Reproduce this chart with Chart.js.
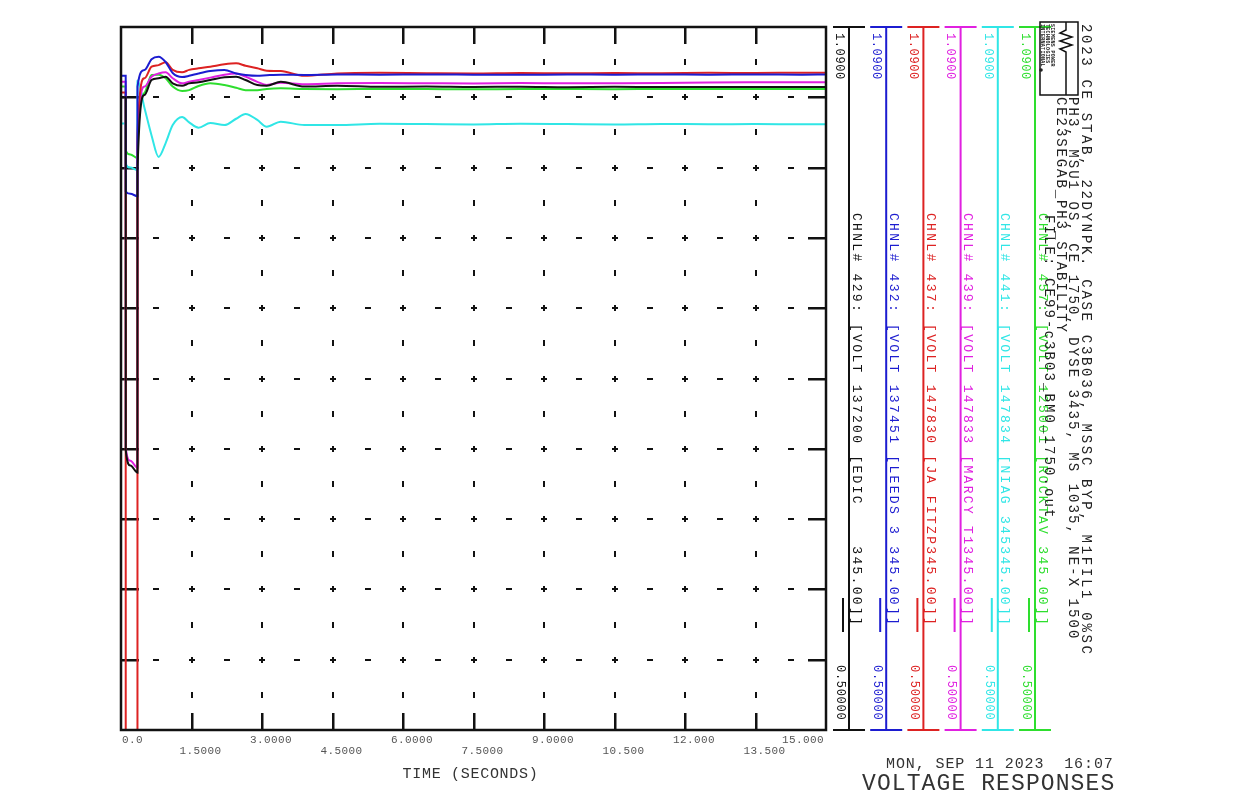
<!DOCTYPE html>
<html>
<head>
<meta charset="utf-8">
<title>VOLTAGE RESPONSES</title>
<script src="https://cdn.jsdelivr.net/npm/chart.js@4.4.0/dist/chart.umd.min.js"></script>
<style>
  html, body { margin: 0; padding: 0; background: #fff; }
  #wrap { width: 1236px; height: 798px; }
</style>
</head>
<body>
<div id="wrap"><canvas id="plot" width="1236" height="798"></canvas></div>
<script>
// time axis (seconds) shared by every channel
const time = [0, 0.1, 0.101, 0.2, 0.35, 0.351, 0.5, 0.65, 0.8, 0.95, 1.1, 1.3, 1.45, 1.65, 1.9, 2.2, 2.45, 2.65, 2.9, 3.1, 3.4, 3.9, 4.6, 5.5, 6.5, 7.5, 8.5, 9.5, 10.5, 11.5, 12.5, 13.5, 14.5, 15];

// bus voltages (pu)
const volt429 = [1.031, 1.031, 0.735, 0.722, 0.716, 0.970, 1.033, 1.0455, 1.047, 1.0483, 1.0427, 1.0407, 1.0427, 1.0436, 1.0455, 1.0478, 1.0483, 1.0455, 1.0413, 1.0407, 1.044, 1.040, 1.0407, 1.0398, 1.04, 1.0396, 1.0399, 1.0395, 1.0398, 1.0396, 1.0397, 1.0396, 1.0397, 1.0396];
const volt432 = [1.049, 1.049, 0.952, 0.950, 0.948, 1.040, 1.054, 1.063, 1.065, 1.0606, 1.0514, 1.048, 1.049, 1.051, 1.053, 1.054, 1.051, 1.0497, 1.049, 1.0495, 1.050, 1.0498, 1.0502, 1.05, 1.0501, 1.05, 1.0499, 1.0501, 1.05, 1.0501, 1.05, 1.0501, 1.05, 1.0501];
const volt437 = [1.035, 1.035, 0.30, 0.30, 0.30, 1.000, 1.047, 1.0567, 1.058, 1.0604, 1.054, 1.052, 1.054, 1.0553, 1.0567, 1.0587, 1.0595, 1.0575, 1.0553, 1.0533, 1.053, 1.049, 1.051, 1.0515, 1.0512, 1.051, 1.0514, 1.0511, 1.0513, 1.0512, 1.0515, 1.0514, 1.0516, 1.0515];
const volt439 = [1.044, 1.044, 0.737, 0.726, 0.720, 0.990, 1.040, 1.0483, 1.051, 1.052, 1.047, 1.0427, 1.044, 1.0455, 1.0475, 1.050, 1.051, 1.0483, 1.044, 1.0413, 1.0433, 1.042, 1.0427, 1.043, 1.0428, 1.0426, 1.0429, 1.0427, 1.0428, 1.043, 1.0434, 1.0436, 1.0437, 1.0436];
const volt441 = [1.009, 1.009, 0.975, 0.972, 0.970, 1.045, 1.022, 0.999, 0.981, 0.9926, 1.0077, 1.0145, 1.010, 1.0055, 1.0094, 1.0077, 1.013, 1.017, 1.012, 1.0063, 1.0105, 1.0077, 1.0077, 1.0088, 1.0085, 1.0082, 1.0088, 1.0085, 1.0082, 1.0086, 1.0084, 1.0085, 1.0083, 1.0083];
const volt457 = [1.040, 1.040, 0.986, 0.983, 0.980, 0.990, 1.0346, 1.0497, 1.050, 1.047, 1.040, 1.0363, 1.037, 1.0405, 1.0427, 1.0413, 1.039, 1.037, 1.037, 1.038, 1.0385, 1.038, 1.0378, 1.038, 1.0379, 1.0377, 1.038, 1.0379, 1.0378, 1.038, 1.0379, 1.038, 1.0379, 1.038];

const channelNames = [
  "CHNL# 429: [VOLT 137200 [EDIC    345.00]]",
  "CHNL# 432: [VOLT 137451 [LEEDS 3 345.00]]",
  "CHNL# 437: [VOLT 147830 [JA FITZP345.00]]",
  "CHNL# 439: [VOLT 147833 [MARCY T1345.00]]",
  "CHNL# 441: [VOLT 147834 [NIAG 345345.00]]",
  "CHNL# 457: [VOLT 125001 [ROCKTAV 345.00]]"
];
const channelColors = ["#111111", "#1c1cd0", "#dd2222", "#e020e0", "#30e6e6", "#2ede2e"];
const channelMax = ["1.0900", "1.0900", "1.0900", "1.0900", "1.0900", "1.0900"];
const channelMin = ["0.50000", "0.50000", "0.50000", "0.50000", "0.50000", "0.50000"];

const xTicks = [0, 1.5, 3, 4.5, 6, 7.5, 9, 10.5, 12, 13.5, 15];
const xTickLabels = ["0.0", "1.5000", "3.0000", "4.5000", "6.0000", "7.5000", "9.0000", "10.500", "12.000", "13.500", "15.000"];

const titleLines = [
  "2023 CE STAB, 22DYNPK. CASE C3B036, MSSC BYP, M1FIL1 0%SC",
  "PH3, MSU1 OS, CE 1750, DYSE 3435, MS 1035, NE-X 1500",
  "CE23SEGAB_PH3_STABILITY",
  "FILE: CE99-c3B03_BM0_1750.out"
];
const dateText = "MON, SEP 11 2023  16:07";
const plotTitle = "VOLTAGE RESPONSES";
const xTitle = "TIME (SECONDS)";

const series = [volt429, volt432, volt437, volt439, volt441, volt457];

const MONO = '"Liberation Mono", "DejaVu Sans Mono", monospace';

// draw text char by char with a fixed advance, optionally rotated (reads top->bottom)
function spaced(ctx, text, x, y, adv, rotated) {
  ctx.save();
  ctx.translate(x, y);
  if (rotated) ctx.rotate(Math.PI / 2);
  ctx.textAlign = "left";
  ctx.textBaseline = "middle";
  for (let i = 0; i < text.length; i++) {
    ctx.fillText(text[i], i * adv, 0);
  }
  ctx.restore();
}

// grid marks of the PSS/E plot (crosses, dashes, edge ticks)
const gridMarks = {
  id: "gridMarks",
  beforeDatasetsDraw(chart) {
    const { ctx, chartArea: a, scales } = chart;
    const sx = scales.x, sy = scales.y;
    const step = (sy.max - sy.min) / 10;
    ctx.save();
    ctx.fillStyle = "#111";
    for (let k = 1; k < 10; k++) {
      const py = Math.round(sy.getPixelForValue(sy.min + k * step));
      ctx.fillRect(a.left, py - 1, 18, 2.5);
      ctx.fillRect(a.right - 18, py - 1, 18, 2.5);
      for (let j = 1; j < xTicks.length - 1; j++) {
        const px = Math.round(sx.getPixelForValue(xTicks[j]));
        ctx.fillRect(px - 3, py - 1, 6, 2);
        ctx.fillRect(px - 1, py - 3, 2, 6);
      }
      for (let j = 0; j < xTicks.length - 1; j++) {
        const px = Math.round(sx.getPixelForValue((xTicks[j] + xTicks[j + 1]) / 2));
        ctx.fillRect(px - 3, py - 1, 6, 2);
      }
    }
    for (let k = 0; k < 10; k++) {
      const py = Math.round(sy.getPixelForValue(sy.min + (k + 0.5) * step));
      for (let j = 1; j < xTicks.length - 1; j++) {
        const px = Math.round(sx.getPixelForValue(xTicks[j]));
        ctx.fillRect(px - 1, py - 3, 2, 6);
      }
    }
    for (let j = 1; j < xTicks.length - 1; j++) {
      const px = Math.round(sx.getPixelForValue(xTicks[j]));
      ctx.fillRect(px - 1, a.top, 2.5, 17);
      ctx.fillRect(px - 1, a.bottom - 17, 2.5, 17);
    }
    ctx.restore();
  },
  afterDraw(chart) {
    const { ctx, chartArea: a, scales } = chart;
    const sx = scales.x;
    ctx.save();
    // frame
    ctx.strokeStyle = "#111";
    ctx.lineWidth = 2.5;
    ctx.strokeRect(a.left, a.top, a.right - a.left, a.bottom - a.top);

    // x tick labels in two staggered rows
    ctx.fillStyle = "#555";
    ctx.font = "11px " + MONO;
    xTickLabels.forEach((lab, i) => {
      const px = sx.getPixelForValue(xTicks[i]);
      const w = lab.length * 7;
      let x0 = px + 9 - w / 2;
      if (i === 0) x0 = a.left + 1;
      if (x0 + w > a.right - 2) x0 = a.right - 2 - w;
      spaced(ctx, lab, x0, i % 2 === 0 ? 740 : 751, 7, false);
    });
    ctx.fillStyle = "#333";
    ctx.font = "15px " + MONO;
    spaced(ctx, xTitle, (a.left + a.right) / 2 - 3 - xTitle.length * 9.7 / 2, 774, 9.7, false);

    // channel axes on the right
    const top = a.top, bot = a.bottom;
    series.forEach((s, i) => {
      const lx = 849 + i * 37.2;
      const col = channelColors[i];
      ctx.strokeStyle = col;
      ctx.lineWidth = 2;
      ctx.beginPath();
      ctx.moveTo(lx, top); ctx.lineTo(lx, bot);
      ctx.moveTo(lx - 16, top); ctx.lineTo(lx + 16, top);
      ctx.moveTo(lx - 16, bot); ctx.lineTo(lx + 16, bot);
      ctx.moveTo(lx - 6, 598); ctx.lineTo(lx - 6, 632);
      ctx.stroke();
      ctx.fillStyle = col;
      ctx.font = "12px " + MONO;
      spaced(ctx, channelMax[i], lx - 10, 33, 7.8, true);
      spaced(ctx, channelMin[i], lx - 9, 665, 7.9, true);
      ctx.font = "13px " + MONO;
      spaced(ctx, channelNames[i], lx + 7, 213, 10.1, true);
    });

    // title block
    ctx.fillStyle = "#222";
    ctx.font = "14px " + MONO;
    spaced(ctx, titleLines[0], 1086, 24, 11.1, true);
    spaced(ctx, titleLines[1], 1073, 97, 10.45, true);
    spaced(ctx, titleLines[2], 1061, 97, 10.3, true);
    spaced(ctx, titleLines[3], 1049, 215, 10.5, true);

    // logo
    ctx.strokeStyle = "#111";
    ctx.lineWidth = 1.5;
    ctx.strokeRect(1040, 22, 38, 73);
    ctx.beginPath();
    ctx.moveTo(1066, 22); ctx.lineTo(1066, 30);
    ctx.lineTo(1060, 33); ctx.lineTo(1072, 37); ctx.lineTo(1060, 41);
    ctx.lineTo(1072, 45); ctx.lineTo(1060, 49); ctx.lineTo(1066, 52);
    ctx.lineTo(1066, 95);
    ctx.stroke();
    ctx.font = "bold 5px " + MONO;
    ctx.fillStyle = "#222";
    spaced(ctx, "SIEMENS POWER", 1052, 24, 3.3, true);
    spaced(ctx, "TECHNOLOGIES", 1047, 24, 3.3, true);
    spaced(ctx, "INTERNATIONAL", 1042.5, 24, 3.3, true);
    ctx.beginPath();
    ctx.arc(1041, 70, 1.8, 0, Math.PI * 2);
    ctx.fill();

    // date and plot title
    ctx.fillStyle = "#333";
    ctx.font = "15px " + MONO;
    spaced(ctx, dateText, 886, 764, 9.9, false);
    ctx.font = "23px " + MONO;
    spaced(ctx, plotTitle, 862, 784, 14.9, false);
    ctx.restore();
  }
};

const datasets = series.map((s, i) => ({
  label: channelNames[i],
  data: time.map((t, j) => ({ x: t, y: s[j] })),
  borderColor: channelColors[i],
  borderWidth: 2,
  pointRadius: 0,
  cubicInterpolationMode: "monotone",
  fill: false
}));

const config = {
  type: "line",
  data: { datasets },
  options: {
    responsive: false,
    animation: false,
    devicePixelRatio: 1,
    layout: { padding: { left: 121, right: 410, top: 27, bottom: 68 } },
    plugins: { legend: { display: false }, tooltip: { enabled: false } },
    scales: {
      x: { type: "linear", min: 0, max: 15, display: false },
      y: { type: "linear", min: 0.5, max: 1.09, display: false }
    }
  },
  plugins: [gridMarks]
};

new Chart(document.getElementById("plot"), config);
</script>
</body>
</html>
